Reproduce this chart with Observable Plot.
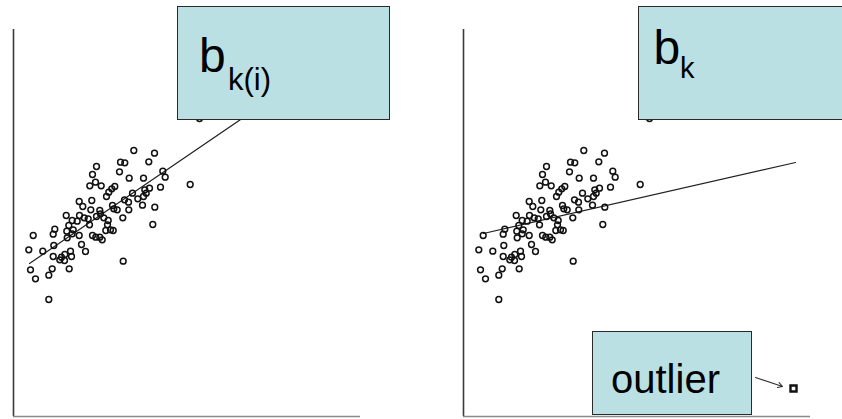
<!DOCTYPE html>
<html><head><meta charset="utf-8">
<script src="https://cdn.jsdelivr.net/npm/d3@7"></script>
<script src="https://cdn.jsdelivr.net/npm/@observablehq/plot@0.6"></script>
<style>
html,body{margin:0;padding:0;background:#fff;}
#wrap{position:relative;width:842px;height:419px;overflow:hidden;font-family:"Liberation Sans",Arial,sans-serif;}
.panel{position:absolute;top:0;}
.box{position:absolute;background:#bbe0e3;border:1px solid #2a2a2a;box-sizing:border-box;}
.lbl{position:absolute;line-height:1;white-space:nowrap;color:#000;}
</style></head><body>
<div id="wrap"></div>
<script>
// Scatter data (same observations in both panels)
const pointX = [120.3,141,107,111.3,135.3,83,106,149.3,151.7,79,115.7,130,82,76.3,87.7,101.3,98.3,147,176.7,136,131.3,132.7,119,95.3,93,65.7,78.3,111,115,124.3,130,129,141.3,69.3,99,100.3,103.7,77.3,86.3,115.3,52.7,66,70.7,74.7,58.7,63.7,55.3,59.7,53.3,83,87,90.3,94.7,109.3,76,94,97,99.7,92.3,139.3,41.3,39.7,19.7,65.7,79,82.3,86.3,88.7,53.7,58.7,40.3,68,15.3,29.3,72,57,39.7,51.3,58,46.3,51,48,109.7,17,38.7,55.7,22,35.3,35.3,186];
const pointY = [266,263.3,254.3,253.7,254.7,250,244.7,245.3,239.3,242,238.3,238.3,234.3,230.7,230.7,230,227.7,229.3,232,228.3,226.7,223.3,223.3,224.3,220,215,216,216.7,214.3,217.7,220,211.3,209.3,210,211,207.7,206.7,206.7,206,206.7,201,201,198.7,197.7,196,195.3,191,186.7,185.3,200,202.7,198.7,196,198.7,191.7,191.7,186.7,186,186,192,187.3,182.3,181,181,181,179.3,179.3,176.7,178.7,182.7,171,172,166.7,165.3,165,165.3,160,162,160,156.7,156,159.3,155.3,146.7,147.7,147.7,137.7,141.3,117,298];
// Outlier (right panel only)
const outlierX = [330];
const outlierY = [28];
// Fitted lines: endpoints
const fitExclX = [16, 332];   // b_k(i), outlier excluded
const fitExclY = [153, 368.5];
const fitInclX = [20, 332];   // b_k, outlier included
const fitInclY = [183, 254];
// Axis extents
const axisXExtent = [0, 347];
const axisYExtent = [0, 387];
// Arrow from label to outlier
const arrowX = [292, 319];
const arrowY = [39, 30];

const points = pointX.map((x, i) => ({x, y: pointY[i]}));
const outlier = outlierX.map((x, i) => ({x, y: outlierY[i]}));
const fitExcl = fitExclX.map((x, i) => ({x, y: fitExclY[i]}));
const fitIncl = fitInclX.map((x, i) => ({x, y: fitInclY[i]}));

function axes() {
  return [
    Plot.ruleX([0], {y1: axisYExtent[0], y2: axisYExtent[1], stroke: "#3a3a3a", strokeWidth: 1.6}),
    Plot.ruleY([0], {x1: axisXExtent[0], x2: axisXExtent[1], stroke: "#8a8a8a", strokeWidth: 1.5})
  ];
}
function panel(marks, width, marginRight) {
  return Plot.plot({
    width, height: 419,
    marginLeft: 13, marginRight, marginTop: 26, marginBottom: 3,
    x: {domain: [0, 350], axis: null},
    y: {domain: [0, 390], axis: null},
    style: {background: "transparent", overflow: "visible"},
    marks
  });
}
const dotStyle = {x: "x", y: "y", r: 2.9, stroke: "#111", strokeWidth: 1.5, fill: "none"};

const left = panel([
  ...axes(),
  Plot.line(fitExcl, {x: "x", y: "y", stroke: "#222", strokeWidth: 1.2}),
  Plot.dot(points, dotStyle)
], 450, 87);

const right = panel([
  ...axes(),
  Plot.line(fitIncl, {x: "x", y: "y", stroke: "#222", strokeWidth: 1.2}),
  Plot.dot(points, dotStyle),
  Plot.dot(outlier, {x: "x", y: "y", symbol: "square", r: 3.4, stroke: "#111", strokeWidth: 2.4, fill: "#fff"}),
  Plot.arrow([0], {x1: () => arrowX[0], y1: () => arrowY[0], x2: () => arrowX[1], y2: () => arrowY[1], stroke: "#333", strokeWidth: 1.1, headLength: 7, bend: 0})
], 392, 29);

const wrap = document.getElementById("wrap");
left.classList.add("panel"); left.style.left = "0px";
right.classList.add("panel"); right.style.left = "450px";
wrap.appendChild(left);
wrap.appendChild(right);

function box(l, t, w, h) {
  const d = document.createElement("div");
  d.className = "box";
  Object.assign(d.style, {left: l + "px", top: t + "px", width: w + "px", height: h + "px"});
  wrap.appendChild(d);
}
function label(text, l, t, size) {
  const s = document.createElement("div");
  s.className = "lbl";
  s.textContent = text;
  Object.assign(s.style, {left: l + "px", top: t + "px", fontSize: size + "px"});
  wrap.appendChild(s);
}
box(177, 6, 213, 114);
label("b", 199, 32.4, 48);
label("k(i)", 228, 63.8, 31);
box(638, 6, 220, 114);
label("b", 653.6, 24.4, 48);
label("k", 680, 53.5, 29);
box(592, 331, 160, 84);
label("outlier", 611, 358.8, 40);
</script>
</body></html>
